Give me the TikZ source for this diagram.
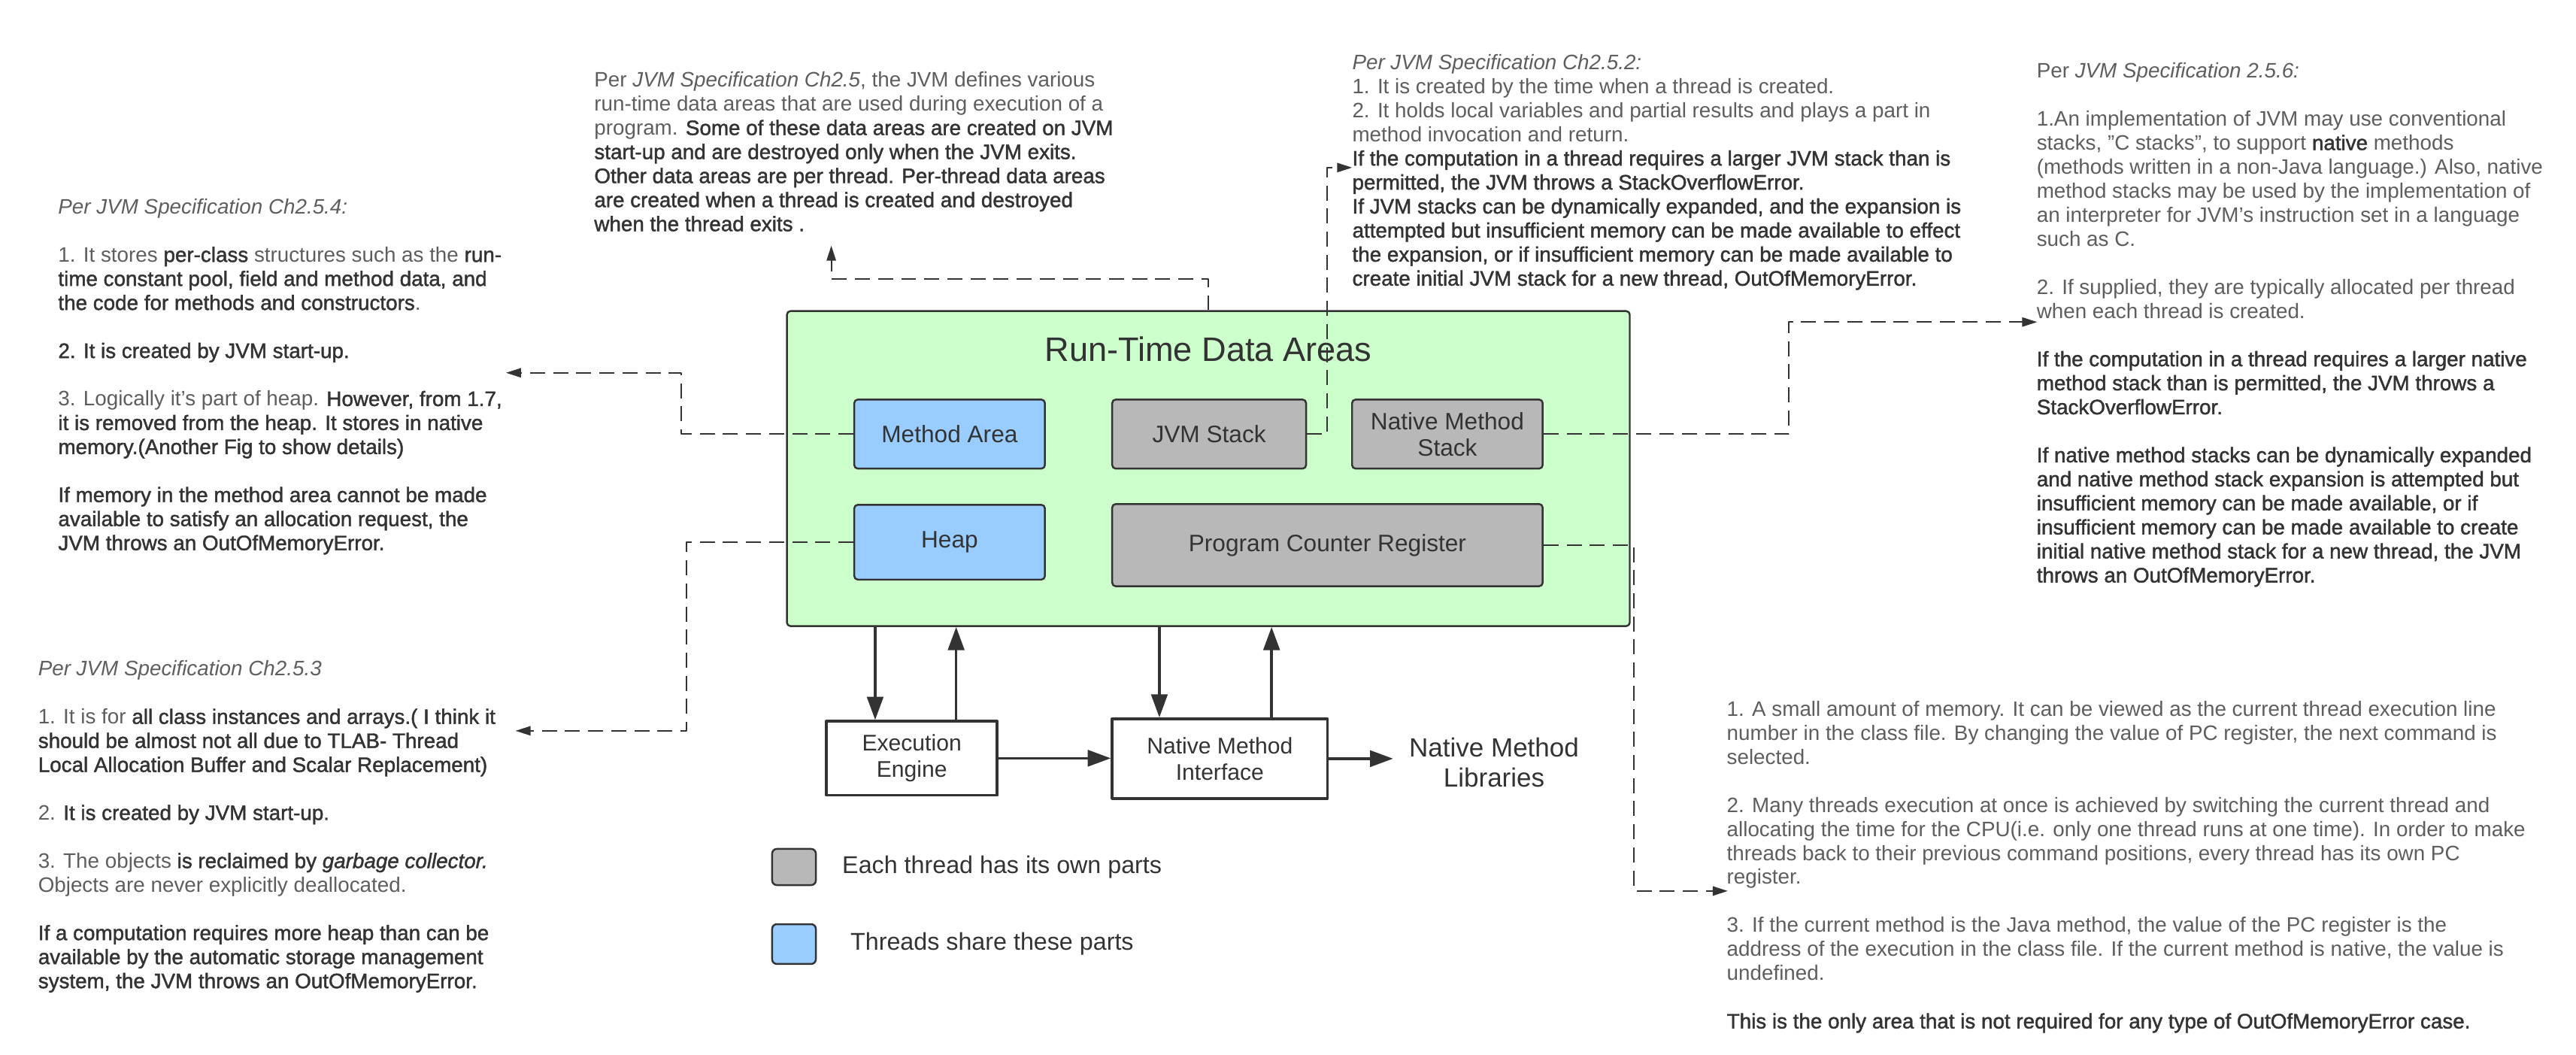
\documentclass[tikz,border=0pt]{standalone}
\usepackage{fontspec}
\setmainfont{Liberation Sans}[
  BoldFont={Liberation Sans}, BoldFeatures={FakeBold=1.5},
  BoldItalicFont={Liberation Sans Italic}, BoldItalicFeatures={FakeBold=1.5}]
\usetikzlibrary{arrows.meta,positioning,calc}
\definecolor{jvGreen}{HTML}{CCFFCC}
\definecolor{jvBlue}{HTML}{99CCFF}
\definecolor{jvGray}{HTML}{B8B8B8}
\definecolor{jvLine}{HTML}{333333}
\definecolor{jvText}{HTML}{333333}
\definecolor{jvSoft}{HTML}{5E5E5E}
\newcommand{\hl}[1]{{\bfseries\color{jvText}#1}}
\newcommand{\gapline}{20.8pt}

\begin{document}
\begin{tikzpicture}[x=0.5mm, y=-0.5mm, line join=round,
    area/.style={draw=jvLine, line width=1.6pt, rounded corners=3pt, text=jvText,
      font=\fontsize{20.6}{22.8}\selectfont, align=center},
    shared/.style={area, fill=jvBlue},
    private/.style={area, fill=jvGray},
    unit/.style={draw=jvLine, line width=2.4pt, fill=white, text=jvText, align=center,
      font=\fontsize{19.6}{23}\selectfont},
    flow/.style={draw=jvLine, line width=2.4pt, -{Triangle[length=20pt, width=14pt]}},
    note/.style={draw=jvLine, line width=1.3pt, dash pattern=on 13pt off 7pt,
      -{Triangle[length=13pt, width=8pt]}},
    spec/.style={inner sep=0pt, anchor=north west, align=left, text=jvSoft,
      font=\fontsize{18.1}{20.8}\selectfont},
    swatch/.style={draw=jvLine, line width=1.6pt, rounded corners=4pt,
      minimum width=13.3mm, minimum height=11mm},
    legend/.style={inner sep=0pt, text=jvText, font=\fontsize{21}{24}\selectfont}]
    \fill[white] (0,0) rectangle (1568,642);
    \useasboundingbox (0,0) rectangle (1568,642);

    % ── run-time data areas ───────────────────────────────────────────────
    \node[area, fill=jvGreen, minimum width=256.5mm, minimum height=95.85mm] (areas) at (735.5,285.2) {};
    \node[text=jvText, font=\fontsize{29.4}{32}\selectfont, anchor=base] (areasTitle) at (735.5,219.7) {Run-Time Data Areas};
    \node[shared, minimum width=58mm, minimum height=21mm] (marea) at (578,264.2) {Method Area};
    \node[private, minimum width=59mm, minimum height=21mm] (jvmstack) at (736,264.2) {JVM Stack};
    \node[private, minimum width=58mm, minimum height=21mm] (nmstack) at (881,264.2) {Native Method\\Stack};
    \node[shared, minimum width=58mm, minimum height=22.75mm] (heap) at (578,330) {Heap};
    \node[private, minimum width=131mm, minimum height=25mm] (pcreg) at (808,331.8) {Program Counter Register};

    % ── engine and native interface ───────────────────────────────────────
    \node[unit, minimum width=52mm, minimum height=22.5mm] (ee) at (555,461.5) {Execution\\Engine};
    \node[unit, minimum width=65.5mm, minimum height=24.25mm] (nmi) at (742.5,461.75) {Native Method\\Interface};
    \node[text=jvText, align=center, font=\fontsize{22.8}{25.6}\selectfont, anchor=west, inner sep=0pt] (nml) at (857.6,464) {Native Method\\Libraries};

    \coordinate (eeIn) at ($(ee.north)+(-22.3,0)$);
    \coordinate (eeOut) at ($(ee.north)+(27,0)$);
    \coordinate (nmiIn) at ($(nmi.north)+(-36.8,0)$);
    \coordinate (nmiOut) at ($(nmi.north)+(31.5,0)$);
    \draw[flow] (eeIn |- areas.south) -- (eeIn);
    \draw[flow] (eeOut) -- (eeOut |- areas.south);
    \draw[flow] (nmiIn |- areas.south) -- (nmiIn);
    \draw[flow] (nmiOut) -- (nmiOut |- areas.south);
    \draw[flow] (ee.east) -- (ee.east -| nmi.west);
    \draw[flow, shorten >=13.7pt] (nmi.east) -- (nmi.east -| nml.west);

    % ── legend ────────────────────────────────────────────────────────────
    \node[swatch, fill=jvGray] (keyOwn) at (483.3,527.7) {};
    \node[swatch, fill=jvBlue, minimum height=12.1mm] (keyShared) at (483.3,574.6) {};
    \node[legend, right=7.7mm of keyOwn] (keyOwnText) {Each thread has its own parts};
    \node[legend, right=10.2mm of keyShared] (keySharedText) {Threads share these parts};

    % ── specification notes ───────────────────────────────────────────────
    \node[spec] (specMA) at (35.3,120.8) {%
      \textit{Per JVM Specification Ch2.5.4:}\\[\gapline]
      1. It stores \hl{per-class} structures such as the \hl{run-}\\
      \hl{time constant pool, field and method data, and}\\
      \hl{the code for methods and constructors}.\\[\gapline]
      \hl{2. It is created by JVM start-up.}\\[\gapline]
      3. Logically it's part of heap. \hl{However, from 1.7,}\\
      \hl{it is removed from the heap. It stores in native}\\
      \hl{memory.(Another Fig to show details)}\\[\gapline]
      \hl{If memory in the method area cannot be made}\\
      \hl{available to satisfy an allocation request, the}\\
      \hl{JVM throws an OutOfMemoryError.}};
    \node[spec] (specHP) at (23.1,402) {%
      \textit{Per JVM Specification Ch2.5.3}\\[\gapline]
      1. It is for \hl{all class instances and arrays.( I think it}\\
      \hl{should be almost not all due to TLAB- Thread}\\
      \hl{Local Allocation Buffer and Scalar Replacement)}\\[\gapline]
      2. \hl{It is created by JVM start-up.}\\[\gapline]
      3. The objects \hl{is reclaimed by \textit{garbage collector.}}\\
      Objects are never explicitly deallocated.\\[\gapline]
      \hl{If a computation requires more heap than can be}\\
      \hl{available by the automatic storage management}\\
      \hl{system, the JVM throws an OutOfMemoryError.}};
    \node[spec] (specRT) at (361.6,43.6) {%
      Per \textit{JVM Specification Ch2.5}, the JVM defines various\\
      run-time data areas that are used during execution of a\\
      program. \hl{Some of these data areas are created on JVM}\\
      \hl{start-up and are destroyed only when the JVM exits.}\\
      \hl{Other data areas are per thread. Per-thread data areas}\\
      \hl{are created when a thread is created and destroyed}\\
      \hl{when the thread exits .}};
    \node[spec] (specJS) at (823,32.9) {%
      \textit{Per JVM Specification Ch2.5.2:}\\
      1. It is created by the time when a thread is created.\\
      2. It holds local variables and partial results and plays a part in\\
      method invocation and return.\\
      \hl{If the computation in a thread requires a larger JVM stack than is}\\
      \hl{permitted, the JVM throws a StackOverflowError.}\\
      \hl{If JVM stacks can be dynamically expanded, and the expansion is}\\
      \hl{attempted but insufficient memory can be made available to effect}\\
      \hl{the expansion, or if insufficient memory can be made available to}\\
      \hl{create initial JVM stack for a new thread, OutOfMemoryError.}};
    \node[spec] (specNS) at (1239.6,38.1) {%
      Per \textit{JVM Specification 2.5.6:}\\[\gapline]
      1.An implementation of JVM may use conventional\\
      stacks, "C stacks", to support \hl{native} methods\\
      (methods written in a non-Java language.) Also, native\\
      method stacks may be used by the implementation of\\
      an interpreter for JVM's instruction set in a language\\
      such as C.\\[\gapline]
      2. If supplied, they are typically allocated per thread\\
      when each thread is created.\\[\gapline]
      \hl{If the computation in a thread requires a larger native}\\
      \hl{method stack than is permitted, the JVM throws a}\\
      \hl{StackOverflowError.}\\[\gapline]
      \hl{If native method stacks can be dynamically expanded}\\
      \hl{and native method stack expansion is attempted but}\\
      \hl{insufficient memory can be made available, or if}\\
      \hl{insufficient memory can be made available to create}\\
      \hl{initial native method stack for a new thread, the JVM}\\
      \hl{throws an OutOfMemoryError.}};
    \node[spec] (specPC) at (1051,426.5) {%
      1. A small amount of memory. It can be viewed as the current thread execution line\\
      number in the class file. By changing the value of PC register, the next command is\\
      selected.\\[\gapline]
      2. Many threads execution at once is achieved by switching the current thread and\\
      allocating the time for the CPU(i.e. only one thread runs at one time). In order to make\\
      threads back to their previous command positions, every thread has its own PC\\
      register.\\[\gapline]
      3. If the current method is the Java method, the value of the PC register is the\\
      address of the execution in the class file. If the current method is native, the value is\\
      undefined.\\[\gapline]
      \hl{This is the only area that is not required for any type of OutOfMemoryError case.}};

    % ── dashed pointers to the notes ──────────────────────────────────────
    \coordinate (tipRT) at (506,149.5);
    \coordinate (tipJS) at (823,102);
    \coordinate (tipNS) at (1240,196);
    \coordinate (tipMA) at (308,226.9);
    \coordinate (tipHP) at (313.8,444.8);
    \coordinate (tipPC) at (1051.7,542.3);
    \draw[note] (areas.north) |- ($(tipRT)+(0,20.3)$) -- (tipRT);
    \draw[note] (jvmstack.east) -| ($(tipJS)+(-15,0)$) -- (tipJS);
    \draw[note] (nmstack.east) -| ($(tipNS)+(-151,0)$) -- (tipNS);
    \draw[note] (marea.west) -| ($(tipMA)+(106.7,0)$) -- (tipMA);
    \draw[note] (heap.west) -| ($(tipHP)+(104.2,0)$) -- (tipHP);
    \draw[note] (pcreg.east) -| ($(tipPC)+(-57.1,0)$) -- (tipPC);
\end{tikzpicture}
\end{document}
